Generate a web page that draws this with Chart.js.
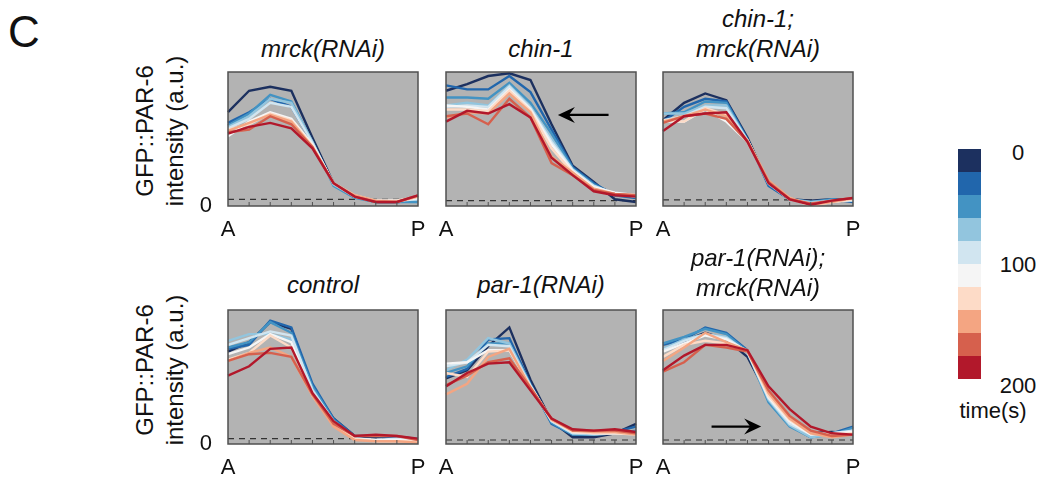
<!DOCTYPE html>
<html>
<head>
<meta charset="utf-8">
<script src="https://cdn.jsdelivr.net/npm/chart.js@4.4.1/dist/chart.umd.min.js"></script>
<style>
  body { margin: 0; width: 1041px; height: 479px; background: #fff; position: relative; overflow: hidden;
         font-family: 'Liberation Sans', Arial, Helvetica, sans-serif; color: #111; }
  .abs { position: absolute; }
  .title { font-style: italic; font-size: 24px; line-height: 30px; text-align: center; width: 240px; }
  .ytitle { font-size: 24px; line-height: 30px; text-align: center; white-space: nowrap;
            transform: translate(-50%, -50%) rotate(-90deg); }
  .panel-label { font-size: 44px; line-height: 44px; }
  .lbl { font-size: 22px; line-height: 22px; transform: translate(-50%, -50%); white-space: nowrap; }
</style>
</head>
<body>
<div class="abs panel-label" style="left:8px; top:10px;">C</div>
<div class="abs ytitle" style="left:160px; top:131px;">GFP::PAR-6<br>intensity (a.u.)</div>
<div class="abs ytitle" style="left:160px; top:370px;">GFP::PAR-6<br>intensity (a.u.)</div>
<div id="legend"></div>

<script>
// positions along the embryo, anterior → posterior (10 bins)
const POSITIONS = ['A', '', '', '', '', '', '', '', '', 'P'];

// one colour per time point, 0 s (top) → 200 s (bottom)
const TIME_COLORS = ['#1c305f', '#2166ac', '#4393c3', '#92c5de', '#d1e5f0',
                     '#f5f5f5', '#fddbc7', '#f4a582', '#d6604d', '#b2182b'];
const LEGEND_TICKS = ['0', '100', '200'];

// GFP::PAR-6 intensity profiles, one row per time point (same order as TIME_COLORS)
const mrckRNAi = [
  [0.70, 0.86, 0.89, 0.86, 0.51, 0.17, 0.07, 0.03, 0.03, 0.04],
  [0.62, 0.70, 0.80, 0.74, 0.47, 0.16, 0.07, 0.03, 0.03, 0.04],
  [0.60, 0.69, 0.83, 0.78, 0.48, 0.15, 0.06, 0.03, 0.03, 0.03],
  [0.59, 0.67, 0.80, 0.77, 0.48, 0.16, 0.07, 0.03, 0.04, 0.05],
  [0.58, 0.65, 0.77, 0.74, 0.47, 0.17, 0.07, 0.04, 0.04, 0.05],
  [0.52, 0.63, 0.70, 0.65, 0.46, 0.17, 0.07, 0.04, 0.04, 0.06],
  [0.57, 0.61, 0.69, 0.64, 0.45, 0.17, 0.08, 0.04, 0.04, 0.07],
  [0.56, 0.62, 0.68, 0.63, 0.44, 0.17, 0.08, 0.04, 0.03, 0.07],
  [0.55, 0.57, 0.67, 0.61, 0.44, 0.17, 0.07, 0.03, 0.03, 0.08],
  [0.54, 0.59, 0.62, 0.58, 0.43, 0.17, 0.07, 0.03, 0.03, 0.08]
];
const chin1 = [
  [0.86, 0.91, 0.97, 0.99, 0.94, 0.61, 0.30, 0.18, 0.05, 0.03],
  [0.90, 0.87, 0.87, 0.97, 0.85, 0.57, 0.29, 0.17, 0.08, 0.06],
  [0.81, 0.81, 0.80, 0.92, 0.77, 0.54, 0.28, 0.16, 0.08, 0.07],
  [0.75, 0.77, 0.75, 0.90, 0.74, 0.50, 0.27, 0.15, 0.09, 0.07],
  [0.74, 0.75, 0.74, 0.89, 0.73, 0.48, 0.27, 0.15, 0.09, 0.07],
  [0.75, 0.74, 0.72, 0.87, 0.72, 0.46, 0.26, 0.14, 0.10, 0.08],
  [0.72, 0.72, 0.71, 0.86, 0.71, 0.43, 0.25, 0.13, 0.09, 0.08],
  [0.66, 0.70, 0.69, 0.84, 0.70, 0.37, 0.25, 0.13, 0.09, 0.08],
  [0.67, 0.69, 0.61, 0.80, 0.66, 0.32, 0.23, 0.12, 0.09, 0.08],
  [0.63, 0.71, 0.69, 0.76, 0.66, 0.36, 0.23, 0.11, 0.08, 0.07]
];
const chin1MrckRNAi = [
  [0.64, 0.77, 0.84, 0.79, 0.51, 0.16, 0.05, 0.04, 0.05, 0.05],
  [0.63, 0.74, 0.80, 0.78, 0.50, 0.15, 0.05, 0.02, 0.05, 0.03],
  [0.69, 0.70, 0.78, 0.77, 0.49, 0.16, 0.05, 0.03, 0.05, 0.04],
  [0.69, 0.69, 0.75, 0.75, 0.49, 0.17, 0.05, 0.03, 0.04, 0.04],
  [0.64, 0.67, 0.74, 0.73, 0.49, 0.17, 0.05, 0.02, 0.04, 0.04],
  [0.63, 0.63, 0.72, 0.63, 0.48, 0.17, 0.05, 0.02, 0.03, 0.05],
  [0.64, 0.63, 0.73, 0.68, 0.49, 0.18, 0.06, 0.00, 0.03, 0.05],
  [0.63, 0.67, 0.72, 0.67, 0.49, 0.19, 0.06, 0.01, 0.03, 0.06],
  [0.62, 0.67, 0.69, 0.65, 0.48, 0.18, 0.05, 0.02, 0.04, 0.06],
  [0.56, 0.67, 0.69, 0.70, 0.48, 0.17, 0.05, 0.01, 0.04, 0.06]
];
const control = [
  [0.69, 0.76, 0.91, 0.86, 0.43, 0.19, 0.06, 0.05, 0.05, 0.04],
  [0.71, 0.74, 0.92, 0.87, 0.45, 0.19, 0.06, 0.06, 0.05, 0.04],
  [0.72, 0.76, 0.91, 0.83, 0.43, 0.18, 0.05, 0.02, 0.04, 0.04],
  [0.77, 0.82, 0.82, 0.78, 0.41, 0.16, 0.04, 0.02, 0.03, 0.04],
  [0.74, 0.79, 0.84, 0.81, 0.40, 0.17, 0.04, 0.03, 0.04, 0.03],
  [0.67, 0.72, 0.82, 0.76, 0.36, 0.15, 0.04, 0.03, 0.03, 0.02],
  [0.63, 0.68, 0.81, 0.72, 0.37, 0.14, 0.04, 0.02, 0.02, 0.02],
  [0.62, 0.68, 0.72, 0.65, 0.36, 0.13, 0.03, 0.02, 0.02, 0.01],
  [0.62, 0.67, 0.68, 0.65, 0.37, 0.15, 0.06, 0.06, 0.06, 0.03],
  [0.51, 0.58, 0.71, 0.72, 0.38, 0.17, 0.06, 0.07, 0.06, 0.04]
];
const par1RNAi = [
  [0.49, 0.55, 0.73, 0.87, 0.48, 0.17, 0.05, 0.05, 0.08, 0.15],
  [0.50, 0.56, 0.78, 0.79, 0.45, 0.15, 0.07, 0.07, 0.09, 0.13],
  [0.53, 0.58, 0.75, 0.75, 0.44, 0.16, 0.07, 0.07, 0.08, 0.10],
  [0.55, 0.63, 0.79, 0.75, 0.44, 0.17, 0.08, 0.07, 0.08, 0.09],
  [0.58, 0.61, 0.74, 0.73, 0.43, 0.17, 0.08, 0.08, 0.08, 0.08],
  [0.60, 0.61, 0.70, 0.70, 0.43, 0.18, 0.09, 0.08, 0.08, 0.08],
  [0.53, 0.50, 0.69, 0.70, 0.43, 0.18, 0.09, 0.08, 0.08, 0.07],
  [0.37, 0.45, 0.65, 0.71, 0.42, 0.18, 0.10, 0.09, 0.09, 0.07],
  [0.44, 0.51, 0.61, 0.64, 0.42, 0.19, 0.10, 0.10, 0.10, 0.08],
  [0.43, 0.53, 0.60, 0.61, 0.40, 0.19, 0.11, 0.10, 0.11, 0.09]
];
const par1MrckRNAi = [
  [0.70, 0.77, 0.83, 0.78, 0.65, 0.35, 0.15, 0.08, 0.09, 0.08],
  [0.74, 0.78, 0.87, 0.83, 0.70, 0.33, 0.14, 0.05, 0.08, 0.13],
  [0.75, 0.80, 0.86, 0.82, 0.69, 0.31, 0.13, 0.05, 0.07, 0.12],
  [0.71, 0.78, 0.82, 0.80, 0.68, 0.33, 0.14, 0.05, 0.07, 0.10],
  [0.70, 0.77, 0.82, 0.79, 0.69, 0.34, 0.15, 0.07, 0.08, 0.10],
  [0.69, 0.75, 0.81, 0.78, 0.69, 0.35, 0.17, 0.07, 0.08, 0.09],
  [0.65, 0.74, 0.77, 0.75, 0.69, 0.36, 0.18, 0.08, 0.07, 0.08],
  [0.62, 0.72, 0.83, 0.76, 0.70, 0.38, 0.19, 0.08, 0.05, 0.07],
  [0.54, 0.61, 0.74, 0.72, 0.69, 0.40, 0.21, 0.10, 0.06, 0.07],
  [0.55, 0.66, 0.74, 0.74, 0.70, 0.43, 0.26, 0.13, 0.08, 0.07]
];

// background (cytoplasmic) level drawn as the dashed line in each panel
const BACKGROUND = [0.05, 0.04, 0.045, 0.04, 0.03, 0.03];

// layout of the 2 x 3 grid (chart-area corner in page pixels)
const PANEL_W = 190, PANEL_H = 134;
const PAD = { left: 40, right: 10, top: 5, bottom: 35 };
const PANELS = [
  { left: 228, top: 72,  titleTop: 34,  title: ['mrck(RNAi)'],                rows: mrckRNAi, zero: true },
  { left: 446, top: 72,  titleTop: 34,  title: ['chin-1'],                    rows: chin1,
    arrow: { from: [7.7, 0.68], to: [5.3, 0.68] } },
  { left: 663, top: 72,  titleTop: 4,   title: ['chin-1;', 'mrck(RNAi)'],     rows: chin1MrckRNAi },
  { left: 228, top: 310, titleTop: 270, title: ['control'],                   rows: control, zero: true },
  { left: 446, top: 310, titleTop: 270, title: ['par-1(RNAi)'],               rows: par1RNAi },
  { left: 663, top: 310, titleTop: 243, title: ['par-1(RNAi);', 'mrck(RNAi)'], rows: par1MrckRNAi,
    arrow: { from: [2.3, 0.13], to: [4.65, 0.13] } }
];

Chart.defaults.font.family = "'Liberation Sans', Arial, Helvetica, sans-serif";
Chart.defaults.color = '#111';

// grey box, dashed background level, inward ticks, frame and arrows
const panelDecor = {
  id: 'panelDecor',
  beforeDraw(chart) {
    const { ctx, chartArea: a } = chart;
    ctx.save();
    ctx.fillStyle = '#b3b3b3';
    ctx.fillRect(a.left, a.top, a.width, a.height);
    ctx.restore();
  },
  beforeDatasetsDraw(chart, args, opts) {
    const { ctx, chartArea: a, scales: { y } } = chart;
    const yy = y.getPixelForValue(opts.background);
    ctx.save();
    ctx.strokeStyle = '#333';
    ctx.lineWidth = 1.2;
    ctx.setLineDash([6, 5]);
    ctx.beginPath();
    ctx.moveTo(a.left, yy);
    ctx.lineTo(a.right, yy);
    ctx.stroke();
    ctx.restore();
  },
  afterDatasetsDraw(chart, args, opts) {
    const { ctx, chartArea: a, scales: { x, y } } = chart;
    ctx.save();
    ctx.strokeStyle = '#505050';
    ctx.lineWidth = 1.5;
    ctx.strokeRect(a.left, a.top, a.width, a.height);
    ctx.lineWidth = 1;
    ctx.beginPath();
    for (let i = 1; i < POSITIONS.length - 1; i++) {
      const px = x.getPixelForValue(i);
      ctx.moveTo(px, a.bottom);
      ctx.lineTo(px, a.bottom - 4);
    }
    ctx.stroke();

    if (opts.arrow) {
      const x0 = x.getPixelForValue(opts.arrow.from[0]), y0 = y.getPixelForValue(opts.arrow.from[1]);
      const x1 = x.getPixelForValue(opts.arrow.to[0]),   y1 = y.getPixelForValue(opts.arrow.to[1]);
      const len = Math.hypot(x1 - x0, y1 - y0);
      const dx = (x1 - x0) / len, dy = (y1 - y0) / len;
      ctx.strokeStyle = '#000';
      ctx.fillStyle = '#000';
      ctx.lineWidth = 2.2;
      ctx.beginPath();
      ctx.moveTo(x0, y0);
      ctx.lineTo(x1 - dx * 10, y1 - dy * 10);
      ctx.stroke();
      ctx.beginPath();
      ctx.moveTo(x1, y1);
      ctx.lineTo(x1 - dx * 17 - dy * 8, y1 - dy * 17 + dx * 8);
      ctx.lineTo(x1 - dx * 11, y1 - dy * 11);
      ctx.lineTo(x1 - dx * 17 + dy * 8, y1 - dy * 17 - dx * 8);
      ctx.closePath();
      ctx.fill();
    }
    ctx.restore();
  }
};

PANELS.forEach((p, k) => {
  const title = document.createElement('div');
  title.className = 'abs title';
  title.style.left = (p.left + PANEL_W / 2 - 120) + 'px';
  title.style.top = p.titleTop + 'px';
  title.innerHTML = p.title.join('<br>');
  document.body.appendChild(title);

  const canvas = document.createElement('canvas');
  canvas.className = 'abs';
  canvas.width = PAD.left + PANEL_W + PAD.right;
  canvas.height = PAD.top + PANEL_H + PAD.bottom;
  canvas.style.left = (p.left - PAD.left) + 'px';
  canvas.style.top = (p.top - PAD.top) + 'px';
  document.body.appendChild(canvas);

  // red (latest) drawn on top of blue (earliest)
  const datasets = p.rows.map((row, i) => ({
    label: 't' + i,
    data: row,
    borderColor: TIME_COLORS[i],
    borderWidth: 2.4,
    order: TIME_COLORS.length - i
  }));

  new Chart(canvas, {
    type: 'line',
    data: { labels: POSITIONS, datasets },
    options: {
      responsive: false,
      animation: false,
      layout: { padding: { left: 0, right: PAD.right, top: PAD.top, bottom: 0 } },
      elements: { point: { radius: 0 }, line: { tension: 0 } },
      plugins: {
        legend: { display: false },
        tooltip: { enabled: false },
        panelDecor: { background: BACKGROUND[k], arrow: p.arrow || null }
      },
      scales: {
        x: {
          type: 'category',
          offset: false,
          grid: { display: false, drawTicks: false },
          border: { display: false },
          ticks: { font: { size: 22 }, padding: 11, autoSkip: false, maxRotation: 0 },
          afterFit(s) {
            s.height = PAD.bottom;
            s.paddingLeft = 0; s.paddingRight = 0;
          }
        },
        y: {
          min: 0,
          max: 1,
          grid: { display: false, drawTicks: false },
          border: { display: false },
          afterBuildTicks(s) { s.ticks = [{ value: 0 }]; },
          ticks: { font: { size: 22 }, padding: 16, callback: v => (v === 0 && p.zero ? '0' : '') },
          afterFit(s) {
            s.width = PAD.left;
            s.paddingTop = 0; s.paddingBottom = 0;
          }
        }
      }
    },
    plugins: [panelDecor]
  });
});

// colour bar legend
const legend = document.getElementById('legend');
TIME_COLORS.forEach((c, i) => {
  const sw = document.createElement('div');
  sw.className = 'abs';
  sw.style.cssText += `left:958px;top:${149 + i * 23}px;width:23px;height:23px;background:${c};`;
  legend.appendChild(sw);
});
const legendTickY = [153, 265, 386];
LEGEND_TICKS.forEach((t, i) => {
  const d = document.createElement('div');
  d.className = 'abs lbl';
  d.style.left = '1018px';
  d.style.top = legendTickY[i] + 'px';
  d.textContent = t;
  legend.appendChild(d);
});
const tl = document.createElement('div');
tl.className = 'abs lbl';
tl.style.left = '993px';
tl.style.top = '411px';
tl.textContent = 'time(s)';
legend.appendChild(tl);
</script>
</body>
</html>
